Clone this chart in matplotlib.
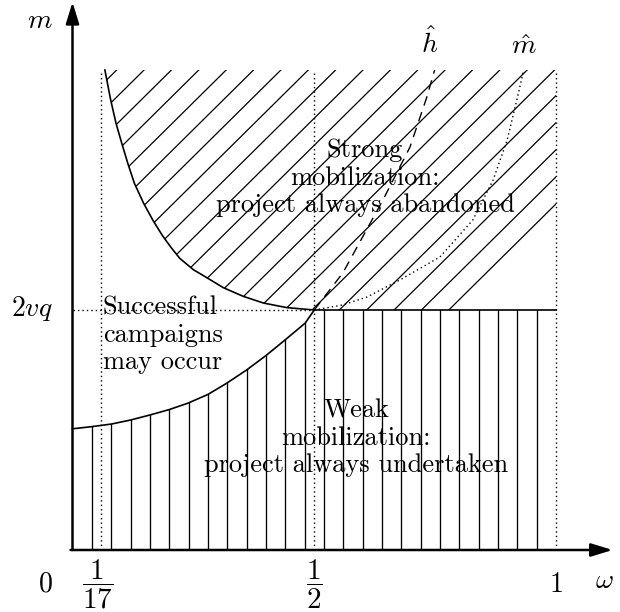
import numpy as np
import matplotlib
matplotlib.use("Agg")
import matplotlib.pyplot as plt
from matplotlib.patches import Polygon

plt.rcParams['mathtext.fontset'] = 'cm'

# ---- data (omega, m in units where 2vq = 1) ----
upper_w = [0.067, 0.079, 0.090, 0.102, 0.115, 0.128, 0.147, 0.166, 0.186, 0.204,
           0.222, 0.250, 0.2775, 0.312, 0.353, 0.395, 0.443, 0.5]
upper_m = [2.0, 1.875, 1.778, 1.694, 1.607, 1.528, 1.445, 1.375, 1.31, 1.26,
           1.215, 1.168, 1.135, 1.093, 1.057, 1.029, 1.01, 1.0]

lower_w = [0.0, 0.040, 0.081, 0.121, 0.160, 0.200, 0.239, 0.280, 0.319, 0.360,
           0.400, 0.4395, 0.481, 0.5]
lower_m = [0.505, 0.514, 0.525, 0.542, 0.5625, 0.585, 0.612, 0.648, 0.695, 0.750,
           0.810, 0.875, 0.945, 1.0]

hhat_w = [0.5, 0.559, 0.642, 0.698, 0.733, 0.749]
hhat_m = [1.0, 1.154, 1.458, 1.679, 1.888, 2.0]

mhat_w = [0.5, 0.559, 0.609, 0.677, 0.760, 0.828, 0.870, 0.899, 0.919, 0.932]
mhat_m = [1.0, 1.021, 1.054, 1.125, 1.221, 1.375, 1.542, 1.708, 1.875, 1.99]

x_ticks = [0, 1/17, 1/2, 1]
x_tick_labels = [r'$0$', r'$\dfrac{1}{17}$', r'$\dfrac{1}{2}$', r'$1$']
y_level = 1.0
y_label = r'$2vq$'
m_top = 2.0

fig = plt.figure(figsize=(6.2, 6.12), dpi=100)
ax = fig.add_axes([0, 0, 1, 1])
ax.set_xlim(-72.5 / 483.5, (620 - 72.5) / 483.5)
ax.set_ylim(-62 / 240, 550 / 240)
ax.axis('off')

# ---- hatched upper region (diagonal) ----
up_poly = list(zip(upper_w, upper_m)) + [(1, y_level), (1, m_top)]
clip_up = Polygon(up_poly, closed=True, facecolor='none', edgecolor='none')
ax.add_patch(clip_up)
slope = 1.993
for k in range(-5, 40):
    c = 0.997 - 0.0566 * k
    xs = np.array([c - 1.2, c + 0.2])
    ln, = ax.plot(xs, m_top + slope * (xs - c), color='k', lw=0.9, zorder=3)
    ln.set_clip_path(clip_up)

# ---- hatched lower region (vertical) ----
lo_poly = [(0, 0)] + list(zip(lower_w, lower_m)) + [(1, y_level), (1, 0)]
clip_lo = Polygon(lo_poly, closed=True, facecolor='none', edgecolor='none')
ax.add_patch(clip_lo)
for k in range(1, 25):
    ln, = ax.plot([k / 25, k / 25], [0, 1.5], color='k', lw=0.95, zorder=3)
    ln.set_clip_path(clip_lo)

# ---- boundary curves ----
ax.plot(upper_w, upper_m, color='k', lw=1.2, zorder=4)
ax.plot(lower_w, lower_m, color='k', lw=1.2, zorder=4)
ax.plot([0.5, 1], [y_level, y_level], color='k', lw=1.2, zorder=4)

# dotted guides
dot = (0, (1, 2.2))
for xv in [1/17, 0.5, 1]:
    ax.plot([xv, xv], [0, m_top], color='k', lw=1.0, ls=dot, zorder=2)
ax.plot([0, 0.5], [y_level, y_level], color='k', lw=1.0, ls=dot, zorder=2)

# h-hat (dashed) and m-hat (dotted)
ax.plot(hhat_w, hhat_m, color='k', lw=1.0, ls=(0, (7, 5)), zorder=4)
ax.plot(mhat_w, mhat_m, color='k', lw=1.0, ls=dot, zorder=4)

# ---- axes arrows ----
ax.annotate('', xy=(0, 2.283), xytext=(0, 0),
            arrowprops=dict(arrowstyle='-|>,head_length=0.65,head_width=0.2',
                            lw=1.8, color='k', mutation_scale=20, shrinkA=0, shrinkB=0), zorder=5)
ax.annotate('', xy=(1.117, 0), xytext=(-0.004, 0),
            arrowprops=dict(arrowstyle='-|>,head_length=0.65,head_width=0.2',
                            lw=1.8, color='k', mutation_scale=20, shrinkA=0, shrinkB=0), zorder=5)

# ---- labels ----
lab = 20
def px2w(px):
    return (px - 72.5) / 483.5
def py2m(py):
    return (550 - py) / 240

ax.text(px2w(40), py2m(20), r'$m$', fontsize=lab, ha='center', va='center')
ax.text(px2w(32), py2m(309), y_label, fontsize=lab, ha='center', va='center')
tick_px = [45, 98, 314, 556]
for xp, t in zip(tick_px, x_tick_labels):
    ax.text(px2w(xp), py2m(584), t, fontsize=lab if t in ('$0$', '$1$') else 21,
            ha='center', va='center')
ax.text(px2w(604), py2m(580), r'$\omega$', fontsize=lab, ha='center', va='center')
ax.text(px2w(430), py2m(43), r'$\hat{h}$', fontsize=lab, ha='center', va='center')
ax.text(px2w(524), py2m(46), r'$\hat{m}$', fontsize=lab, ha='center', va='center')

txt = 19
ax.text(px2w(365), py2m(178), 'Strong\nmobilization:\nproject always abandoned',
        fontsize=txt, family='cmr10', ha='center', va='center', linespacing=1.2, zorder=1)
ax.text(px2w(356), py2m(438), 'Weak\nmobilization:\nproject always undertaken',
        fontsize=txt, family='cmr10', ha='center', va='center', linespacing=1.2, zorder=1)
ax.text(px2w(103), py2m(335), 'Successful\ncampaigns\nmay occur',
        fontsize=txt, family='cmr10', ha='left', va='center', linespacing=1.2, zorder=1)

fig.savefig('out.png', dpi=100)
